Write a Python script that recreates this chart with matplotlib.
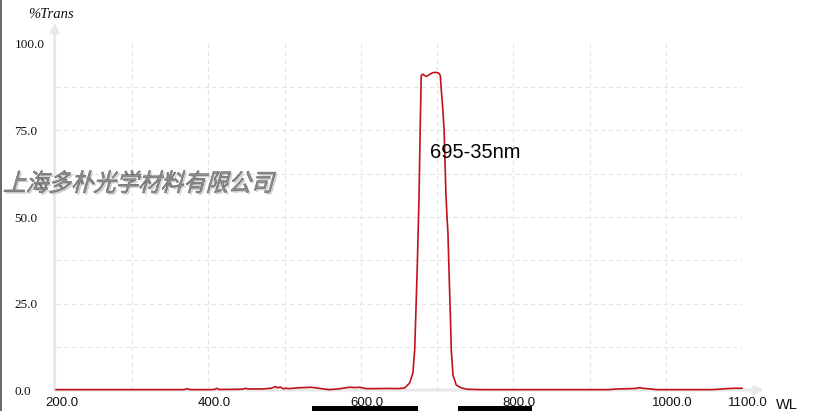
import matplotlib
matplotlib.use("Agg")
import matplotlib.pyplot as plt
from matplotlib.textpath import TextPath
from matplotlib.patches import PathPatch, Rectangle
from matplotlib.font_manager import FontProperties
from matplotlib.transforms import Affine2D, offset_copy

# ---------------- data ----------------
wavelength = [200, 250, 300, 350, 368, 372, 376, 400, 408, 411, 414, 440, 446, 449, 452,
              470, 482, 488, 491, 494, 498, 502, 506, 515, 525, 535, 545, 558, 570, 585,
              592, 598, 607, 620, 635, 650, 657.3, 663.9, 668.2, 670.6, 672.5, 674.2,
              676.2, 678, 679.2, 681, 683.5, 685.8, 690, 694.1, 698, 702, 704.2, 705.5,
              707.6, 709.2, 710.5, 711.5, 713, 714.2, 715.2, 716.5, 717.6, 718.6, 720.8,
              725.2, 731.8, 740, 760,
              800, 850, 900, 925, 936, 955, 962, 966, 970, 980, 988, 1000, 1030, 1060,
              1068, 1080, 1090, 1100]
transmission = [0.1, 0.1, 0.1, 0.1, 0.1, 0.4, 0.1, 0.1, 0.15, 0.5, 0.15, 0.2, 0.3, 0.5, 0.3,
                0.3, 0.5, 1.0, 0.6, 0.9, 0.4, 0.5, 0.4, 0.6, 0.7, 0.8, 0.5, 0.1, 0.3, 0.8,
                0.7, 0.8, 0.4, 0.4, 0.45, 0.4, 0.6, 2.0, 4.9, 11.6, 25.0, 37.6,
                55.0, 78.0, 90.9, 91.3, 90.9, 90.6, 91.2, 91.7, 91.8, 91.6, 90.9, 86.7,
                80.9, 75.0, 65.0, 57.0, 50.0, 45.4, 37.6, 28.0, 20.0, 11.6, 4.3,
                1.4, 0.6, 0.2, 0.1,
                0.1, 0.1, 0.1, 0.1, 0.3, 0.4, 0.5, 0.7, 0.5, 0.3, 0.1, 0.1, 0.1, 0.1,
                0.2, 0.4, 0.5, 0.5]

xticks = [200, 400, 600, 800, 1000, 1100]
xtick_labels = ["200.0", "400.0", "600.0", "800.0", "1000.0", "1100.0"]
yticks = [0, 25, 50, 75, 100]
ytick_labels = ["0.0", "25.0", "50.0", "75.0", "100.0"]
xgrid = [300, 400, 500, 600, 700, 800, 900, 1000]
ygrid = [12.5, 25, 37.5, 50, 62.5, 75, 87.5]

filter_label = "695-35nm"
watermark = "上海多朴光学材料有限公司"

# ---------------- figure ----------------
W, H = 828, 411
fig = plt.figure(figsize=(W / 100, H / 100), dpi=100)
fig.patch.set_facecolor("white")

ax_left, ax_right, ax_bottom, ax_top = 56, 742, 390, 40
ax = fig.add_axes([ax_left / W, (H - ax_bottom) / H, (ax_right - ax_left) / W,
                   (ax_bottom - ax_top) / H])
ax.set_xlim(200, 1100)
ax.set_ylim(0, 100 * (ax_bottom - ax_top) / (ax_bottom - 44))
for s in ax.spines.values():
    s.set_visible(False)

grid_kw = dict(color="#e4e4e4", lw=0.8, ls=(0, (4, 3)), zorder=0)
for g in xgrid:
    ax.axvline(g, **grid_kw)
for g in ygrid:
    ax.axhline(g, **grid_kw)

# axes with arrows (light grey)
ax.annotate("", xy=(-0.002, 1.05), xytext=(-0.002, 0.0), xycoords="axes fraction",
            arrowprops=dict(arrowstyle="-|>", color="#e8e8e8", lw=2.2,
                            mutation_scale=12, shrinkA=0, shrinkB=0),
            annotation_clip=False, zorder=1)
ax.annotate("", xy=(1.032, 0.0), xytext=(0.0, 0.0), xycoords="axes fraction",
            arrowprops=dict(arrowstyle="-|>", color="#e8e8e8", lw=2.2,
                            mutation_scale=12, shrinkA=0, shrinkB=0),
            annotation_clip=False, zorder=1)

ax.plot(wavelength, transmission, color="#c2121c", lw=1.2, zorder=3, clip_on=False)

# ticks
ax.set_xticks(xticks, xtick_labels)
ax.set_yticks(yticks, ytick_labels)
ax.tick_params(axis="both", length=0)
ax.tick_params(axis="x", pad=5)
ax.tick_params(axis="y", pad=30)
for lab in ax.get_xticklabels():
    lab.set_fontfamily("Liberation Sans")
    lab.set_fontsize(9.5)
    lab.set_color("#111111")
    lab.set_transform(offset_copy(lab.get_transform(), fig=fig, x=6, y=0, units="dots"))
for lab in ax.get_yticklabels():
    lab.set_fontfamily("Liberation Serif")
    lab.set_fontsize(9.5)
    lab.set_horizontalalignment("left")
    lab.set_color("#111111")

# axis titles
fig.text(28 / W, 1 - 15 / H, "%Trans", family="Liberation Serif", style="italic",
         fontsize=10.5, va="center", ha="left", color="#111111")
fig.text(776 / W, 1 - 405 / H, "WL", family="Liberation Sans", fontsize=10.5,
         va="center", ha="left", color="#111111")

# filter annotation
fig.text(430 / W, 1 - 153 / H, filter_label, family="Liberation Sans", fontsize=14.5,
         va="center", ha="left", color="#000000")

# watermark: italic (skewed) CJK text with shadow
fp = FontProperties(family="Noto Sans CJK SC", weight="normal")
tp = TextPath((0, 0), watermark, size=22.5, prop=fp)
base = Affine2D().scale(1.0, 1.08).skew_deg(16, 0)
x0, y0 = 3, H - 191
shadow = PathPatch(tp, facecolor="#cfcfcf", edgecolor="none")
main = PathPatch(tp, facecolor="#909090", edgecolor="#5a5a5a", lw=0.4)
shadow.set_transform(base + Affine2D().translate(x0 + 1.8, y0 - 1.8))
main.set_transform(base + Affine2D().translate(x0, y0))
fig.add_artist(shadow)
fig.add_artist(main)

# left border and bottom black bars
fig.add_artist(Rectangle((0, 0), 2 / W, 1, transform=fig.transFigure,
                         facecolor="#6a6a6a", edgecolor="none"))
for (xa, xb) in [(312, 418), (458, 532)]:
    fig.add_artist(Rectangle((xa / W, 0), (xb - xa) / W, 5 / H, transform=fig.transFigure,
                             facecolor="black", edgecolor="none"))

fig.savefig("out.png", dpi=100, facecolor="white")
